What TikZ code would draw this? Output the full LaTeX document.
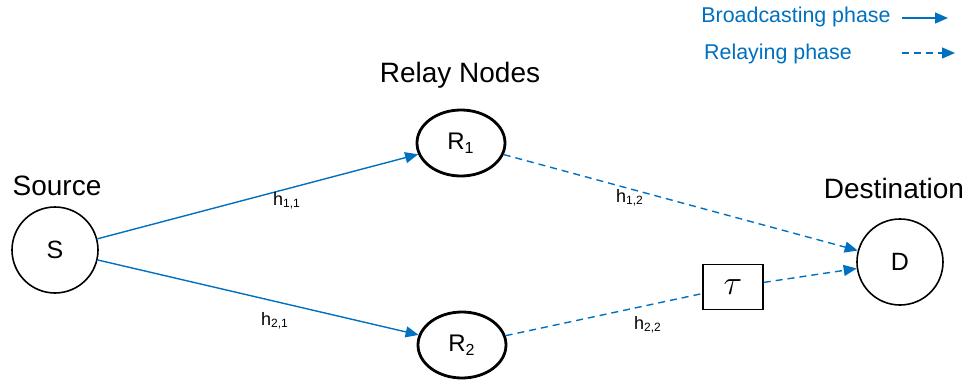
\documentclass[tikz,border=0pt]{standalone}
\usepackage{fontspec}
\setmainfont{Liberation Sans}
\usetikzlibrary{arrows.meta, positioning, shapes.geometric}
\definecolor{linkblue}{HTML}{0070C0}

\begin{document}
\begin{tikzpicture}[x=0.5pt, y=-0.5pt,
    station/.style={circle, draw, line width=0.8pt, minimum size=43pt, inner sep=0pt, font=\fontsize{12.5}{14}\selectfont},
    relay/.style={ellipse, draw, line width=1.4pt, minimum width=44pt, minimum height=33pt, inner sep=0pt, font=\fontsize{12}{14}\selectfont},
    title/.style={font=\fontsize{14}{16}\selectfont},
    chan/.style={font=\fontsize{9}{10}\selectfont},
    legend/.style={text=linkblue, font=\fontsize{10.7}{12}\selectfont},
    bcast/.style={linkblue, line width=0.7pt, -{Triangle[length=6.5pt, width=5.5pt]}},
    rlay/.style={bcast, dashed, dash pattern=on 3.5pt off 2.5pt}]
  \useasboundingbox (0,0) rectangle (971,380);
  % Nodes
  \node[station] (S) at (55,250) {S};
  \node[station] (D) at (900,262) {D};
  \node[relay] (R1) at (461,143) {R\textsubscript{1}};
  \node[relay] (R2) at (462,345) {R\textsubscript{2}};
  \node[draw, line width=0.8pt, minimum width=30pt, minimum height=22.5pt, inner sep=0pt] (delay) at (733,287) {\fontsize{16}{18}\selectfont$\tau$};
  % Titles
  \node[title] (srclabel) at (57,186) {Source};
  \node[title] (rlylabel) at (460,75) {Relay Nodes};
  \node[title] (dstlabel) at (894,188) {Destination};
  % Broadcasting phase
  \draw[bcast] (S) -- (R1);
  \draw[bcast] (S) -- (R2);
  % Relaying phase
  \draw[rlay] (R1) -- (D);
  \draw[linkblue, line width=0.7pt, dashed, dash pattern=on 3.5pt off 2.5pt] (R2) -- (delay);
  \draw[rlay] (delay) -- (D);
  % Channel gains
  \node[chan] (h11) at (287,201) {h\textsubscript{1,1}};
  \node[chan] (h21) at (275,321) {h\textsubscript{2,1}};
  \node[chan] (h12) at (630,198) {h\textsubscript{1,2}};
  \node[chan] (h22) at (648,325) {h\textsubscript{2,2}};
  % Legend
  \node[legend] (bclabel) at (796,17) {Broadcasting phase};
  \node[legend] (rllabel) at (778,54) {Relaying phase};
  \coordinate (bcstart) at (902,18);
  \coordinate (bcend) at (948,18);
  \coordinate (rlstart) at (902,53);
  \coordinate (rlend) at (955,53);
  \draw[bcast] (bcstart) -- (bcend);
  \draw[rlay] (rlstart) -- (rlend);
\end{tikzpicture}
\end{document}
